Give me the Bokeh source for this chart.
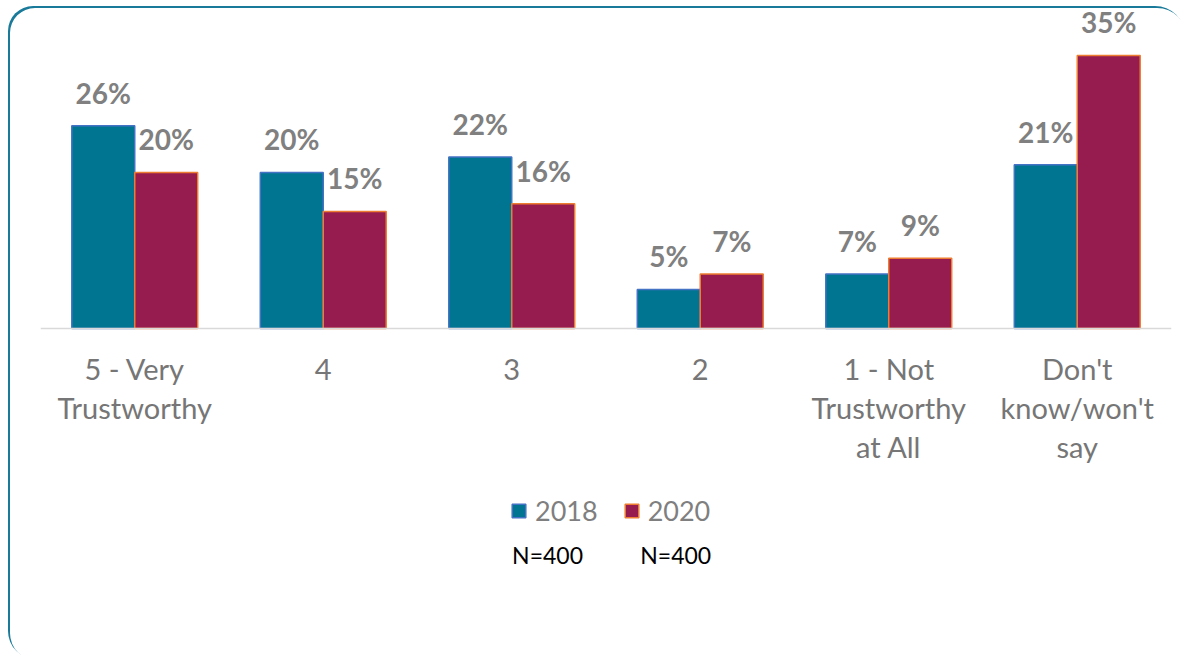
from bokeh.plotting import figure
from bokeh.models import (FactorRange, Legend, LegendItem, Label, ColumnDataSource, Span,
                          CDSView, BooleanFilter)
from bokeh.transform import dodge
from bokeh.core.properties import value
from bokeh.embed import file_html
from bokeh.resources import INLINE

categories = ["5 - Very\nTrustworthy", "4", "3", "2", "1 - Not\nTrustworthy\nat All", "Don't\nknow/won't\nsay"]
v2018 = [26, 20, 22, 5, 7, 21]
v2020 = [20, 15, 16, 7, 9, 35]
series_names = ["2018", "2020"]
sample_sizes = ["N=400", "N=400"]

src = ColumnDataSource(dict(
    cat=categories,
    base=[0] * len(categories),
    v2018=v2018,
    v2020=v2020,
    l2018=[f"{v}%" for v in v2018],
    l2020=[f"{v}%" for v in v2020],
))

FONT = "Lato"
TEAL = "#007592"
MAROON = "#961C4F"

p = figure(width=1177, height=653, x_range=FactorRange(*categories, range_padding=0),
           y_range=(-40, 41.28), output_backend="svg", toolbar_location=None,
           min_border_left=32, min_border_right=14, min_border_top=0, min_border_bottom=19,
           styles={"margin-left": "8px", "margin-top": "6px",
                   "border-radius": "25px 30px 25px 28px",
                   "box-shadow": "inset 2px 2px 0 0 #1A7A9A"})
p.border_fill_alpha = 0
p.background_fill_alpha = 0
p.outline_line_color = None
p.xgrid.visible = False
p.ygrid.visible = False
p.yaxis.visible = False
p.xaxis.visible = False

p.add_layout(Span(location=0, dimension="width", line_color="#D9D9D9", line_width=1.5))

bw = 0.334
r1 = p.vbar(x=dodge("cat", -0.167, range=p.x_range), top="v2018", width=bw, source=src,
            fill_color=TEAL, line_color="#4472C4", line_width=1.5)
r2 = p.vbar(x=dodge("cat", 0.167, range=p.x_range), top="v2020", width=bw, source=src,
            fill_color=MAROON, line_color="#ED7D31", line_width=1.5)

for col, lab, off in (("v2018", "l2018", -0.167), ("v2020", "l2020", 0.167)):
    p.text(x=dodge("cat", off, range=p.x_range), y=col, text=lab, source=src,
           text_align="center", text_baseline="alphabetic", y_offset=-33,
           text_font=value(FONT), text_font_style="bold", text_font_size="28px",
           text_color="#808080")

# category labels below the baseline (multi-line ones get extra leading, so offset differs)
multi = ["\n" in c for c in categories]
for mask, yoff in ((multi, 23), ([not m for m in multi], 31)):
    p.text(x="cat", y="base", text="cat", source=src, view=CDSView(filter=BooleanFilter(mask)),
           text_align="center", text_baseline="top", y_offset=yoff,
           text_font=value(FONT), text_font_size="29px", text_color="#767676",
           text_line_height=1.106)

legend = Legend(items=[LegendItem(label=series_names[0], renderers=[r1]),
                       LegendItem(label=series_names[1], renderers=[r2])],
                orientation="horizontal", location=(470, 113),
                glyph_width=17, glyph_height=17, label_standoff=8, spacing=25,
                label_text_font=FONT, label_text_font_size="27px", label_text_color="#7F7F7F",
                border_line_color=None, background_fill_alpha=0, margin=0, padding=0)
p.add_layout(legend)

for xpos, txt in zip((2.69, 3.37), sample_sizes):
    p.add_layout(Label(x=xpos, y=-29.1, text=txt, text_align="center", text_baseline="middle",
                       text_font=FONT, text_font_size="23px", text_color="#000000"))

open("out.html", "w").write(file_html(p, INLINE))
